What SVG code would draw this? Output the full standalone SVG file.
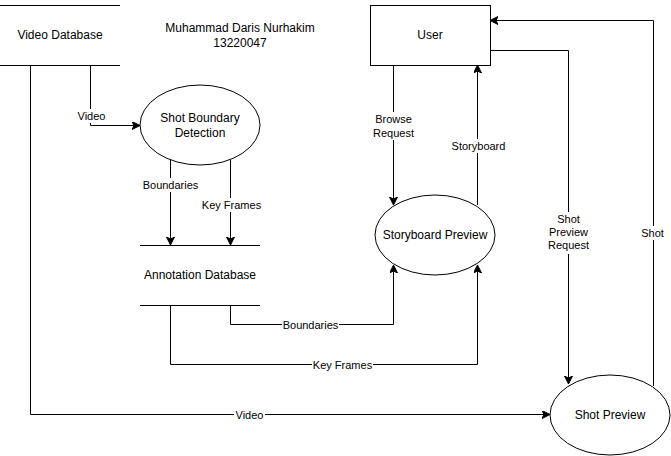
<svg xmlns="http://www.w3.org/2000/svg" width="671" height="456" viewBox="0 0 671 456">
<style>
text{font-family:"Liberation Sans",Arial,sans-serif;fill:#000}
.n{font-size:12px;text-anchor:middle;dominant-baseline:central}
.l{font-size:11px;text-anchor:middle;dominant-baseline:central}
.e{fill:#fff;stroke:#000;stroke-width:1}
.s{fill:none;stroke:#000;stroke-width:1}
.c{fill:none;stroke:#000;stroke-width:1;marker-end:url(#a)}
.c0{fill:none;stroke:#000;stroke-width:1}
.bg{fill:#fff}
</style>
<defs>
<marker id="a" markerUnits="userSpaceOnUse" markerWidth="10" markerHeight="10" refX="8" refY="4" orient="auto">
<path d="M0,0 L8,4 L0,8 L2,4 Z" fill="#000" stroke="#000" stroke-width="1"/>
</marker>
</defs>
<rect width="671" height="456" fill="#fff"/>
<g id="title">
<text class="n" x="240" y="28">Muhammad Daris Nurhakim</text>
<text class="n" x="240" y="43">13220047</text>
</g>
<g id="connectors">
<path class="c" d="M90.5,65 V125.5 H140"/>
<path class="c" d="M170.5,160 V245"/>
<path class="c" d="M230.5,160 V245"/>
<path class="c" d="M230.5,305 V324.5 H393.5 V265"/>
<path class="c" d="M170.5,305 V364.5 H477.5 V265"/>
<path class="c" d="M393.5,65 V205"/>
<path class="c" d="M477.5,205 V65"/>
<path class="c" d="M490,50.5 H568.5 V384"/>
<path class="c" d="M653.5,386 V20.5 H490"/>
<path class="c" d="M30.5,65 V414.5 H550"/>
<rect class="bg" x="76" y="109" width="31" height="14"/>
<text class="l" x="91.5" y="116">Video</text>
<rect class="bg" x="142" y="178" width="57" height="14"/>
<text class="l" x="170.5" y="185">Boundaries</text>
<rect class="bg" x="201" y="198" width="61" height="14"/>
<text class="l" x="231.5" y="205">Key Frames</text>
<rect class="bg" x="282" y="318" width="57" height="14"/>
<text class="l" x="310.5" y="325">Boundaries</text>
<rect class="bg" x="312" y="358" width="61" height="14"/>
<text class="l" x="342.5" y="365">Key Frames</text>
<rect class="bg" x="372" y="112" width="43" height="28"/>
<text class="l" x="393.5" y="119">Browse</text>
<text class="l" x="393.5" y="133">Request</text>
<rect class="bg" x="450" y="139" width="57" height="14"/>
<text class="l" x="478.5" y="146">Storyboard</text>
<rect class="bg" x="547" y="212" width="43" height="42"/>
<text class="l" x="568.5" y="219">Shot</text>
<text class="l" x="568.5" y="232">Preview</text>
<text class="l" x="568.5" y="245">Request</text>
<rect class="bg" x="639" y="226" width="28" height="14"/>
<text class="l" x="652.5" y="233">Shot</text>
<rect class="bg" x="234" y="408" width="31" height="14"/>
<text class="l" x="249.5" y="415">Video</text>
</g>
<g id="video-database">
<path class="s" d="M0,5.5 H120 M0,65.5 H120"/>
<text class="n" x="60" y="35">Video Database</text>
</g>
<g id="shot-boundary-detection">
<ellipse class="e" cx="200" cy="125" rx="60" ry="40"/>
<text class="n" x="200" y="118">Shot Boundary</text>
<text class="n" x="200" y="133">Detection</text>
</g>
<g id="annotation-database">
<path class="s" d="M140,245.5 H260 M140,305.5 H260"/>
<text class="n" x="200" y="275">Annotation Database</text>
</g>
<g id="user">
<rect class="e" x="370.5" y="5.5" width="120" height="60"/>
<text class="n" x="430" y="35">User</text>
</g>
<g id="storyboard-preview">
<ellipse class="e" cx="435" cy="235" rx="60" ry="40"/>
<text class="n" x="435" y="235">Storyboard Preview</text>
</g>
<g id="shot-preview">
<ellipse class="e" cx="610" cy="415" rx="60" ry="40"/>
<text class="n" x="610" y="415">Shot Preview</text>
</g>
</svg>
